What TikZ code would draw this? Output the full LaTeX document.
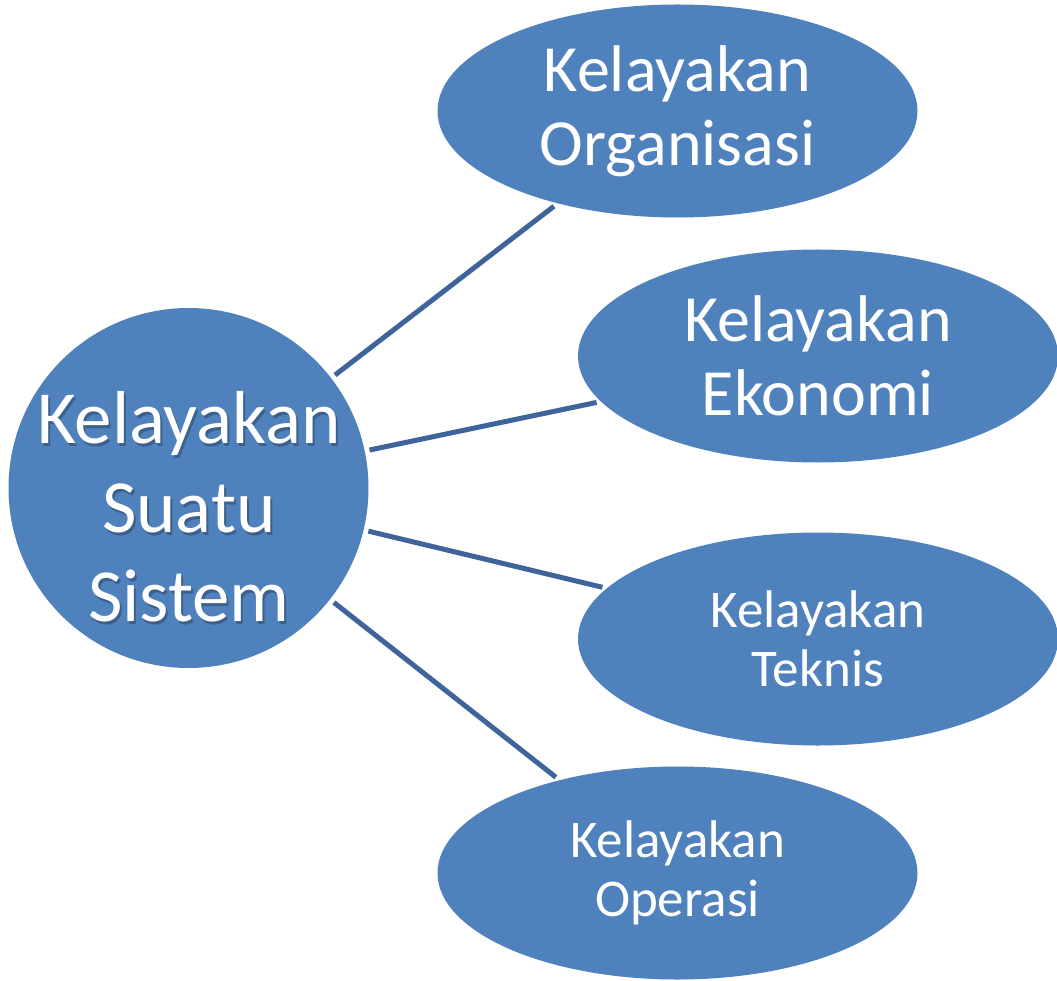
\documentclass[tikz,border=0pt]{standalone}
\usepackage{fontspec}
\setmainfont{Carlito}
\usetikzlibrary{shapes.geometric}
\definecolor{nodeblue}{RGB}{79,129,189}
\definecolor{linkblue}{RGB}{62,100,155}
\tikzset{
  hub/.style={circle, fill=nodeblue, minimum size=360pt, inner sep=0pt, outer sep=5pt},
  leaf/.style={ellipse, fill=nodeblue, minimum width=480pt, minimum height=213pt, inner sep=0pt, outer sep=4pt, text=white, align=center},
  bigtxt/.style={font=\fontsize{66}{74}\selectfont},
  smalltxt/.style={font=\fontsize{53}{59}\selectfont},
  hubtxt/.style={align=center, inner sep=0pt, font=\fontsize{75}{89}\selectfont},
  link/.style={draw=linkblue, line width=5pt}
}
\begin{document}
\begin{tikzpicture}[x=1pt,y=-1pt]
\useasboundingbox (0,0) rectangle (1057,981);
\fill[white] (0,0) rectangle (1057,981);
\node[hub] (c) at (188.5,488) {};
\node[leaf,bigtxt] (e1) at (677.5,111) {Kelayakan\\Organisasi};
\node[leaf,bigtxt] (e2) at (818,356) {Kelayakan\\Ekonomi};
\node[leaf,smalltxt] (e3) at (818,639) {Kelayakan\\Teknis};
\node[leaf,smalltxt] (e4) at (677.5,873) {Kelayakan\\Operasi};
\node[hubtxt, text=black, opacity=0.25] (cts) at (191,509.5) {Kelayakan\\Suatu\\Sistem};
\node[hubtxt, text=white] (ct) at (189,507) {Kelayakan\\Suatu\\Sistem};
\draw[link] (c) -- (e1);
\draw[link] (c) -- (e2);
\draw[link] (c) -- (e3);
\draw[link] (c) -- (e4);
\end{tikzpicture}
\end{document}
